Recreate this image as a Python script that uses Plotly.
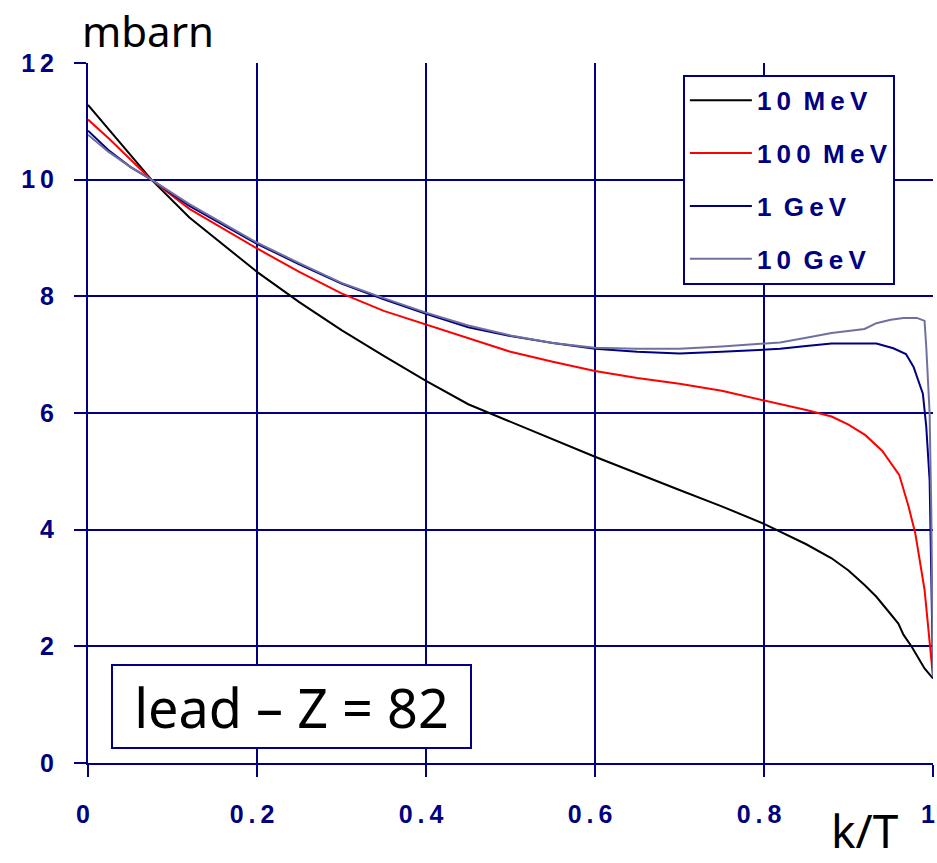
import plotly.graph_objects as go

NAVY = "#000080"
TS = "\u2009"  # thin space used as letter spacing

def spaced(s):
    return TS.join(list(s)).replace(TS + " " + TS, " " + TS)

# ---- data ----
x_10mev = [0, 0.025, 0.05, 0.075, 0.12, 0.2, 0.25, 0.3, 0.35, 0.4, 0.45, 0.5, 0.6, 0.7, 0.75,
           0.8, 0.819, 0.85, 0.88, 0.9, 0.919, 0.933, 0.95, 0.959, 0.965, 0.975, 0.99, 1.0]
y_10mev = [11.28, 10.85, 10.42, 10.0, 9.35, 8.42, 7.9, 7.42, 6.98, 6.55, 6.15, 5.85, 5.25, 4.68, 4.4,
           4.1, 3.97, 3.75, 3.51, 3.3, 3.05, 2.85, 2.55, 2.39, 2.2, 1.99, 1.62, 1.45]

x_100mev = [0, 0.025, 0.05, 0.075, 0.12, 0.2, 0.25, 0.3, 0.35, 0.4, 0.45, 0.5, 0.55, 0.6, 0.65, 0.7,
            0.75, 0.8, 0.82, 0.85, 0.88, 0.9, 0.92, 0.94, 0.96, 0.971, 0.979, 0.99, 1.0]
y_100mev = [11.03, 10.7, 10.35, 10.0, 9.5, 8.82, 8.42, 8.05, 7.75, 7.52, 7.28, 7.05, 6.88, 6.72, 6.6, 6.5,
            6.38, 6.22, 6.15, 6.05, 5.94, 5.8, 5.62, 5.35, 4.94, 4.4, 3.94, 2.97, 1.48]

x_1gev = [0, 0.024, 0.05, 0.075, 0.12, 0.2, 0.25, 0.3, 0.35, 0.4, 0.45, 0.5, 0.55, 0.6, 0.65, 0.7,
          0.75, 0.8, 0.819, 0.85, 0.88, 0.9, 0.933, 0.953, 0.968, 0.977, 0.988, 0.992, 0.996, 1.0]
y_1gev = [10.84, 10.51, 10.22, 10.0, 9.55, 8.9, 8.55, 8.22, 7.95, 7.7, 7.47, 7.32, 7.2, 7.1, 7.05, 7.02,
          7.05, 7.09, 7.1, 7.15, 7.19, 7.19, 7.19, 7.11, 7.01, 6.79, 6.33, 5.77, 4.85, 1.48]

x_10gev = [0, 0.024, 0.05, 0.075, 0.12, 0.2, 0.25, 0.3, 0.35, 0.4, 0.45, 0.5, 0.55, 0.6, 0.65, 0.7,
           0.75, 0.8, 0.819, 0.85, 0.88, 0.919, 0.933, 0.95, 0.965, 0.981, 0.99, 0.992, 0.996, 0.998, 1.0]
y_10gev = [10.77, 10.48, 10.22, 10.0, 9.58, 8.92, 8.57, 8.23, 7.97, 7.72, 7.5, 7.33, 7.2, 7.12, 7.1, 7.1,
           7.14, 7.2, 7.21, 7.29, 7.37, 7.44, 7.54, 7.6, 7.63, 7.63, 7.58, 7.14, 6.0, 4.29, 1.48]

series_names = ["10 MeV", "100 MeV", "1 GeV", "10 GeV"]
series_colors = ["#000000", "#ff0000", "#000080", "#7070a0"]

x_ticks = [0, 0.2, 0.4, 0.6, 0.8, 1]
x_tick_labels = ["0", "0.2", "0.4", "0.6", "0.8", "1"]
y_ticks = [0, 2, 4, 6, 8, 10, 12]
y_tick_labels = ["0", "2", "4", "6", "8", "10", "12"]

xs = [x_10mev, x_100mev, x_1gev, x_10gev]
ys = [y_10mev, y_100mev, y_1gev, y_10gev]

fig = go.Figure()
for name, color, xv, yv in zip(series_names, series_colors, xs, ys):
    fig.add_trace(go.Scatter(
        x=xv, y=yv, mode="lines", name=spaced(name), legendgroup=name,
        line=dict(color=color, width=2),
    ))

tick_font = dict(family="Liberation Sans, Arial, sans-serif", size=25, color=NAVY, weight="bold")

fig.update_layout(
    width=937, height=863,
    margin=dict(l=88, r=4, t=63, b=100, autoexpand=False),
    paper_bgcolor="white", plot_bgcolor="white",
    showlegend=True,
    legend=dict(
        x=0.704, y=0.983, xanchor="left", yanchor="top",
        bgcolor="white", bordercolor=NAVY, borderwidth=2,
        font=dict(family="Liberation Sans, Arial, sans-serif", size=26, color=NAVY, weight="bold"),
        traceorder="grouped", tracegroupgap=16, itemwidth=62,
    ),
    xaxis=dict(
        range=[0, 1], tickvals=x_ticks, ticktext=[spaced(t) for t in x_tick_labels],
        showgrid=True, gridcolor=NAVY, gridwidth=1.5,
        showline=True, linecolor=NAVY, linewidth=2, automargin=False,
        ticks="outside", ticklen=12, tickcolor=NAVY, tickwidth=1.5,
        ticklabelstandoff=16, ticklabelshift=-5, ticklabeloverflow="allow",
        tickfont=tick_font, zeroline=False,
    ),
    yaxis=dict(
        range=[0, 12], tickvals=y_ticks, ticktext=[spaced(t) for t in y_tick_labels],
        showgrid=True, gridcolor=NAVY, gridwidth=1.5,
        showline=True, linecolor=NAVY, linewidth=2, automargin=False,
        ticks="outside", ticklen=12, tickcolor=NAVY, tickwidth=1.5,
        ticklabelstandoff=15, tickfont=tick_font, zeroline=False,
    ),
    annotations=[
        dict(text="mbarn", xref="paper", yref="paper", x=-0.009, y=1.0, xanchor="left",
             yanchor="bottom", yshift=2, showarrow=False,
             font=dict(family="Noto Sans, sans-serif", size=42, color="black")),
        dict(text="k/T", xref="paper", yref="paper", x=0.92, y=0.0, xanchor="center",
             yanchor="bottom", yshift=-100, showarrow=False,
             font=dict(family="Noto Sans, sans-serif", size=46, color="black")),
        dict(text="lead – Z = 82", xref="x", yref="y", x=0.241, y=0.97, xanchor="center",
             yanchor="middle", showarrow=False, bgcolor="white", bordercolor=NAVY,
             borderwidth=2, borderpad=0, width=357, height=81,
             font=dict(family="Noto Sans, sans-serif", size=54, color="black")),
    ],
)

fig.write_html("out.html")
